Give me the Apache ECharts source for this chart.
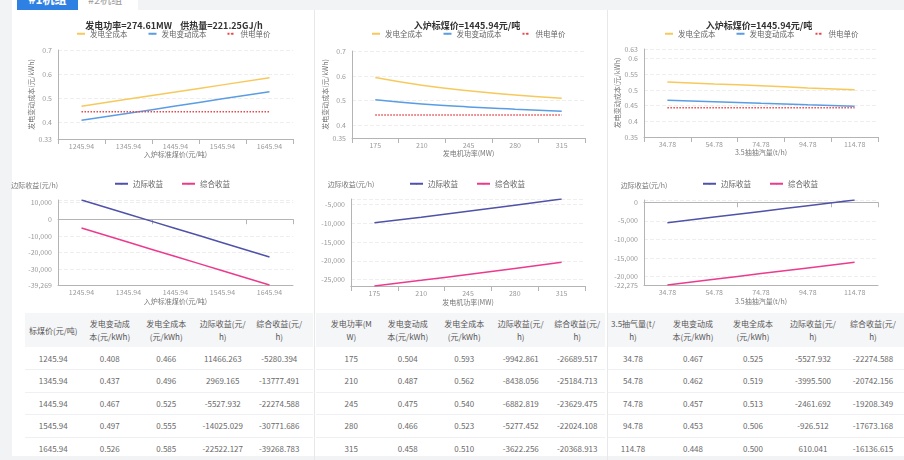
<!DOCTYPE html>
<html>
<head>
<meta charset="utf-8">
<script src="https://cdn.jsdelivr.net/npm/echarts/dist/echarts.min.js"></script>
<style>
html,body{margin:0;padding:0;width:904px;height:460px;overflow:hidden;background:#f2f3f5;font-family:"Noto Sans CJK SC","Noto Sans",sans-serif;}
#panel{position:absolute;left:12px;top:10px;width:892px;height:446px;background:#fff;}
#tabbar{position:absolute;left:12px;top:0;width:126px;height:10px;background:#fff;overflow:hidden;}
.tab1{position:absolute;left:5px;top:-12px;width:61px;height:22px;background:#2f80e3;color:#fff;font-weight:bold;font-size:12px;line-height:22px;text-align:center;}
.tab2{position:absolute;left:76px;top:-12px;color:#999;font-size:11px;line-height:22px;}
.sep{position:absolute;top:10px;width:1px;height:450px;background:#e8e8e8;}
#chart{position:absolute;left:0;top:0;width:904px;height:312px;}
.hdr{position:absolute;background:#f5f6f8;}
.cell{position:absolute;text-align:center;font-size:8px;color:#6a6a6a;white-space:pre;line-height:13px;}
.hcell{color:#555;}
.rowline{position:absolute;height:1px;background:#eef0f3;}
</style>
</head>
<body>
<div id="panel"></div>
<div id="tabbar"><div class="tab1">#1机组</div><div class="tab2">#2机组</div></div>
<div class="sep" style="left:314px"></div>
<div class="sep" style="left:607px"></div>
<div id="chart"></div>
<div id="tables"></div>
<script>
// ---------- data ----------
const coalPrices = ['1245.94','1345.94','1445.94','1545.94','1645.94'];
const coalVarCost = [0.408,0.437,0.467,0.497,0.526];
const coalFullCost = [0.466,0.496,0.525,0.555,0.585];
const coalMarginal = [11466.263,2969.165,-5527.932,-14025.029,-22522.127];
const coalTotal = [-5280.394,-13777.491,-22274.588,-30771.686,-39268.783];

const powers = ['175','210','245','280','315'];
const powerVarCost = [0.504,0.487,0.475,0.466,0.458];
const powerFullCost = [0.593,0.562,0.540,0.523,0.510];
const powerMarginal = [-9942.861,-8438.056,-6882.819,-5277.452,-3622.256];
const powerTotal = [-26689.517,-25184.713,-23629.475,-22024.108,-20368.913];

const steamFlows = ['34.78','54.78','74.78','94.78','114.78'];
const steamVarCost = [0.467,0.462,0.457,0.453,0.448];
const steamFullCost = [0.525,0.519,0.513,0.506,0.500];
const steamMarginal = [-5527.932,-3995.500,-2461.692,-926.512,610.041];
const steamTotal = [-22274.588,-20742.156,-19208.349,-17673.168,-16136.615];

const supplyPrice = [0.443,0.443,0.443,0.443,0.443];

const costAxisMin = [0.33,0.35,0.35];
const costAxisMax = [0.7,0.7,0.63];

const chartTitles = ['发电功率=274.61MW    供热量=221.25GJ/h','入炉标煤价=1445.94元/吨','入炉标煤价=1445.94元/吨'];
const xNames = ['入炉标准煤价(元/吨)','发电机功率(MW)','3.5抽抽汽量(t/h)'];
const costYName = '发电变动成本(元/kWh)';
const revYName = '边际收益(元/h)';
const costLegend = ['发电全成本','发电变动成本','供电单价'];
const revLegend = ['边际收益','综合收益'];

const coalHeaders = ['标煤价(元/吨)','发电变动成\n本(元/kWh)','发电全成本\n(元/kWh)','边际收益(元/\nh)','综合收益(元/\nh)'];
const powerHeaders = ['发电功率(M\nW)','发电变动成\n本(元/kWh)','发电全成本\n(元/kWh)','边际收益(元/\nh)','综合收益(元/\nh)'];
const steamHeaders = ['3.5抽气量(t/\nh)','发电变动成\n本(元/kWh)','发电全成本\n(元/kWh)','边际收益(元/\nh)','综合收益(元/\nh)'];

// ---------- layout ----------
const cats = [coalPrices, powers, steamFlows];
const varC = [coalVarCost, powerVarCost, steamVarCost];
const fullC = [coalFullCost, powerFullCost, steamFullCost];
const marg = [coalMarginal, powerMarginal, steamMarginal];
const tot = [coalTotal, powerTotal, steamTotal];

const upperGrids = [
  {left:58, top:50, width:235, height:89},
  {left:352, top:51, width:233, height:87},
  {left:644, top:49, width:234, height:88}
];
const lowerGrids = [
  {left:58, top:200, width:235, height:85},
  {left:351, top:199, width:234, height:87},
  {left:644, top:200, width:234, height:85}
];
const upperSplit = [5, 4, 5];
const titleX = [169, 462, 754];
const upperLegendX = [76, 371, 664];
const lowerLegendX = [114, 409, 702];

const AX = '#b4b4b4', LBL = '#9a9a9a';
const grid = [], xAxis = [], yAxis = [], series = [], title = [], legend = [];

for (let i = 0; i < 3; i++) {
  grid.push(Object.assign({outerBoundsMode:'none', containLabel:false}, upperGrids[i]));
}
for (let i = 0; i < 3; i++) {
  grid.push(Object.assign({outerBoundsMode:'none', containLabel:false}, lowerGrids[i]));
}
const fmtInt = v => Math.round(v).toLocaleString('en-US');

for (let i = 0; i < 3; i++) {
  title.push({text: chartTitles[i], left: titleX[i], top: 16, textAlign:'center',
    textStyle:{fontSize:9, fontWeight:'bold', color:'#333'}});
  legend.push({data: costLegend, left: upperLegendX[i], top: 30, itemWidth: 8, itemHeight: 2, itemGap: 20,
    textStyle:{fontSize:7.5, color:'#666'}, padding:0});
  legend.push({data: revLegend, left: lowerLegendX[i], top: 180, itemWidth: 13, itemHeight: 2, itemGap: 18,
    textStyle:{fontSize:7.5, color:'#666'}, padding:0});

  // upper x
  xAxis.push({type:'category', gridIndex:i, data: cats[i], boundaryGap:true,
    axisLine:{lineStyle:{color:AX}}, axisTick:{show:true, lineStyle:{color:AX}},
    axisLabel:{fontSize:7, color:LBL, margin:4},
    name: xNames[i], nameLocation:'middle', nameGap:12, nameTextStyle:{fontSize:7, color:'#777'}});
  yAxis.push({type:'value', gridIndex:i, min: costAxisMin[i], max: costAxisMax[i], splitNumber: upperSplit[i],
    axisLine:{show:true, lineStyle:{color:AX}}, axisTick:{show:false},
    axisLabel:{fontSize:7, color:LBL, margin:6},
    splitLine:{lineStyle:{color:'#eeeeee', type:'dashed'}},
    name: costYName, nameLocation:'middle', nameGap:19, nameRotate:90, nameTextStyle:{fontSize:7, color:'#777'}});
}
for (let i = 0; i < 3; i++) {
  // lower main x (labels at bottom)
  xAxis.push({type:'category', gridIndex:3+i, data: cats[i], boundaryGap:true, position:'bottom',
    axisLine:{onZero:false, lineStyle:{color:AX}}, axisTick:{show:false},
    axisLabel:{fontSize:7, color:LBL, margin:4},
    name: xNames[i], nameLocation:'middle', nameGap:13, nameTextStyle:{fontSize:7, color:'#777'}});
  yAxis.push({type:'value', gridIndex:3+i, min:'dataMin', max:'dataMax',
    axisLine:{show:true, lineStyle:{color:AX}}, axisTick:{show:false},
    axisLabel:{fontSize:7, color:LBL, margin:6, formatter: fmtInt,
      showMaxLabel:false, showMinLabel: i !== 1},
    splitLine:{lineStyle:{color:'#eeeeee', type:'dashed'}},
    name: revYName, nameLocation:'end', nameGap:11,
    nameTextStyle:{fontSize:7, color:'#777', align: i === 0 ? 'right' : 'center'}});
}
for (let i = 0; i < 3; i++) {
  // zero-line axis with ticks
  xAxis.push({type:'category', gridIndex:3+i, data: cats[i], boundaryGap:true, position:'bottom',
    axisLine:{onZero:true, lineStyle:{color:AX}}, axisTick:{show:true, lineStyle:{color:AX}},
    axisLabel:{show:false}});
}

for (let i = 0; i < 3; i++) {
  series.push({name:'发电全成本', type:'line', xAxisIndex:i, yAxisIndex:i, data: fullC[i],
    smooth:true, symbol:'none', color:'#f7c95c', lineStyle:{width:1.5, color:'#f7c95c'}});
  series.push({name:'发电变动成本', type:'line', xAxisIndex:i, yAxisIndex:i, data: varC[i],
    smooth:true, symbol:'none', color:'#5a9de4', lineStyle:{width:1.5, color:'#5a9de4'}});
  series.push({name:'供电单价', type:'line', xAxisIndex:i, yAxisIndex:i, data: supplyPrice,
    symbol:'none', color:'#e8474c', lineStyle:{width:1.5, color:'#e8474c', type:'dotted'}});
  series.push({name:'边际收益', type:'line', xAxisIndex:3+i, yAxisIndex:3+i, data: marg[i],
    smooth:true, symbol:'none', color:'#4f52a8', lineStyle:{width:1.5, color:'#4f52a8'}});
  series.push({name:'综合收益', type:'line', xAxisIndex:3+i, yAxisIndex:3+i, data: tot[i],
    smooth:true, symbol:'none', color:'#ec3b8d', lineStyle:{width:1.5, color:'#ec3b8d'}});
}

const chart = echarts.init(document.getElementById('chart'), null, {renderer:'canvas'});
chart.setOption({animation:false, textStyle:{fontFamily:'"Noto Sans CJK SC","Noto Sans",sans-serif'},
  title, legend, grid, xAxis, yAxis, series});

// ---------- tables ----------
const tableLayout = [
  {left:25, colW:56.5, hdrL:25, hdrR:313},
  {left:323, colW:56.5, hdrL:316, hdrR:605},
  {left:603, colW:60, hdrL:608, hdrR:904}
];
const headers = [coalHeaders, powerHeaders, steamHeaders];
const rowCenters = [358, 380.5, 403, 425.5, 448];
const tdiv = document.getElementById('tables');
function add(html){ tdiv.insertAdjacentHTML('beforeend', html); }
for (let t = 0; t < 3; t++) {
  const L = tableLayout[t];
  add(`<div class="hdr" style="left:${L.hdrL}px;top:313px;width:${L.hdrR-L.hdrL}px;height:34px"></div>`);
  for (let r = 1; r < 5; r++) {
    const y = (rowCenters[r-1] + rowCenters[r]) / 2;
    add(`<div class="rowline" style="left:${L.hdrL}px;top:${y}px;width:${L.hdrR-L.hdrL}px"></div>`);
  }
  for (let c = 0; c < 5; c++) {
    const cx = L.left + L.colW * c;
    const h = headers[t][c];
    const lines = h.split('\n').length;
    const top = 330 - lines * 6.5;
    add(`<div class="cell hcell" style="left:${cx}px;top:${top}px;width:${L.colW}px">${h}</div>`);
  }
  const cols = [cats[t], varC[t].map(v=>v.toFixed(3)), fullC[t].map(v=>v.toFixed(3)),
                marg[t].map(v=>v.toFixed(3)), tot[t].map(v=>v.toFixed(3))];
  for (let r = 0; r < 5; r++) {
    for (let c = 0; c < 5; c++) {
      const cx = L.left + L.colW * c;
      add(`<div class="cell" style="left:${cx}px;top:${rowCenters[r]-6.5}px;width:${L.colW}px">${cols[c][r]}</div>`);
    }
  }
}
</script>
</body>
</html>
